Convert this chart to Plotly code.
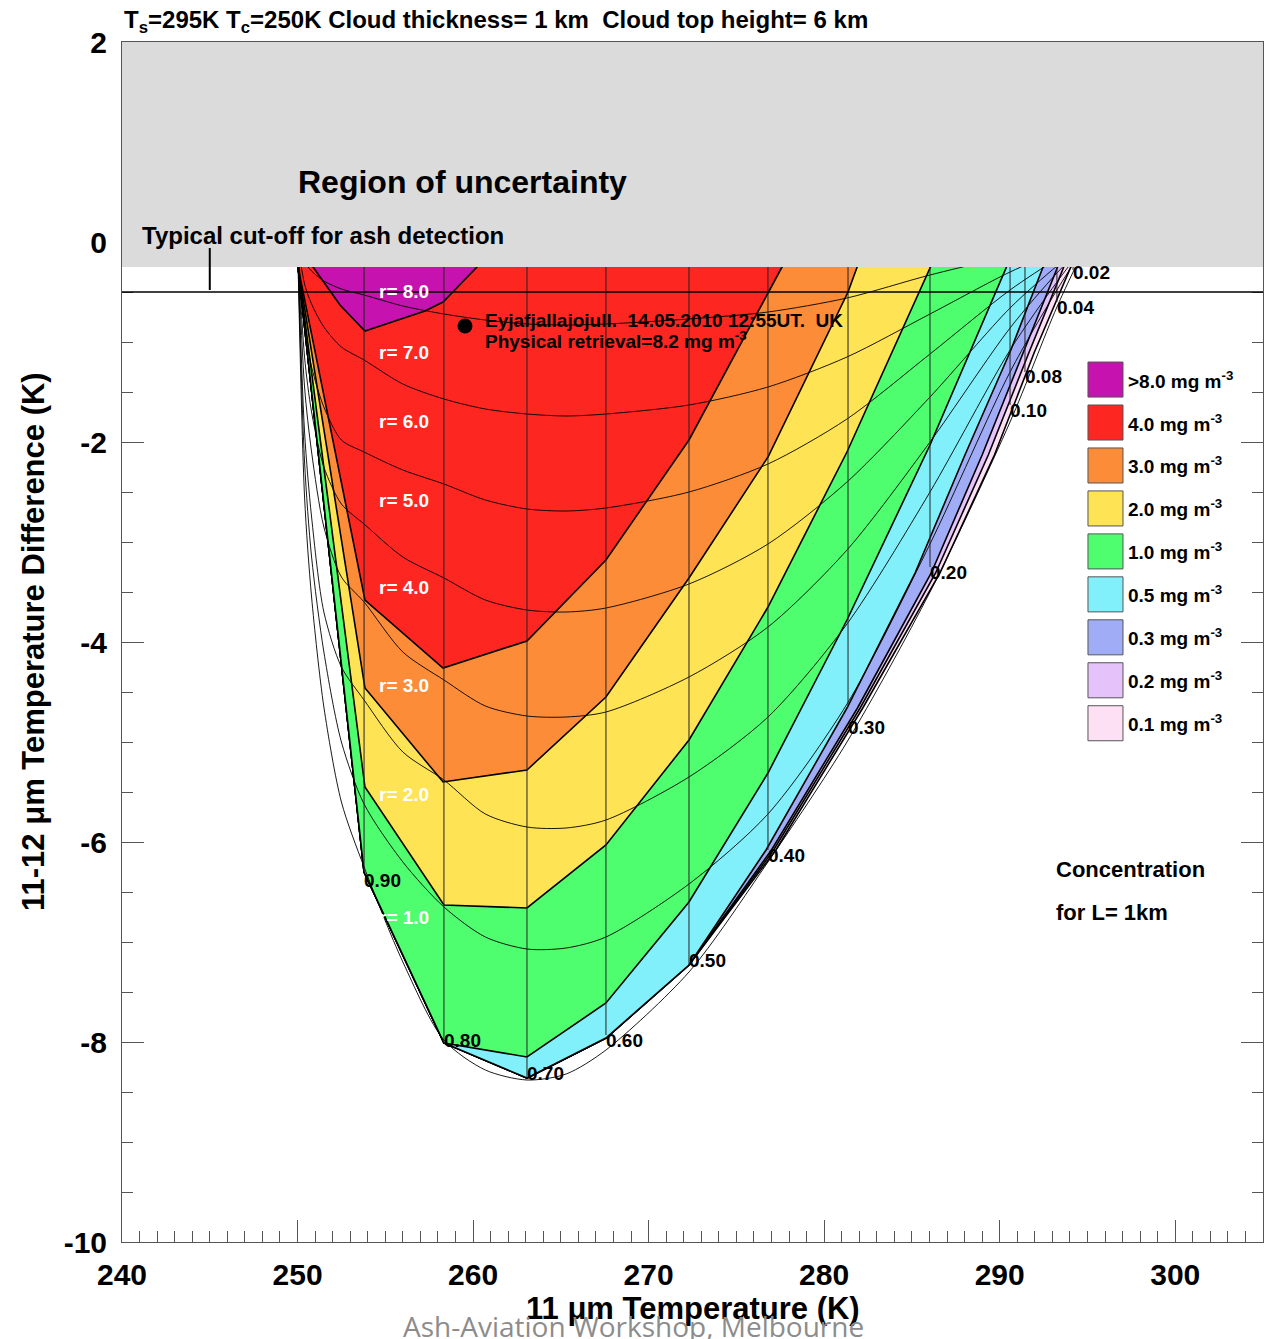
import plotly.graph_objects as go

# ---------------- data ----------------
# concentration classes (legend)
conc_labels = ['>8.0', '4.0', '3.0', '2.0', '1.0', '0.5', '0.3', '0.2', '0.1']
conc_colors = ['#C612AE', '#FE2621', '#FD8C38', '#FEE355', '#4EFE6E',
               '#82F0FB', '#A0ADF6', '#E6C2FA', '#FEE0F4']

# outlines of the regions with concentration >= level (x = 11um BT, y = BTD)
purple_x = [250.6, 250.88, 252.42, 253.84, 257.26, 258.29, 260.22, 260.6]
purple_y = [0.0, -0.25, -0.63, -0.89, -0.69, -0.60, -0.25, 0.0]
red_x = [250.0, 250.03, 253.84, 258.29, 263.07, 267.57, 272.30, 276.80, 277.60, 278.4]
red_y = [0.0, -0.25, -3.58, -4.26, -3.99, -3.18, -1.98, -0.50, -0.25, 0.0]
orange_x = [250.0, 250.03, 253.84, 258.29, 263.07, 267.57, 272.30, 276.80, 281.36, 281.87, 282.4]
orange_y = [0.0, -0.25, -4.46, -5.40, -5.28, -4.55, -3.36, -2.15, -0.50, -0.25, 0.0]
yellow_x = [250.0, 250.03, 253.84, 258.34, 263.07, 267.57, 272.30, 276.80, 281.30, 286.03, 286.7]
yellow_y = [0.0, -0.25, -5.45, -6.63, -6.66, -6.03, -4.98, -3.65, -2.10, -0.25, 0.0]
green_x = [250.0, 250.03, 253.79, 258.34, 263.07, 267.57, 272.30, 276.80, 281.30, 286.03, 291.0]
green_y = [0.0, -0.25, -6.30, -8.01, -8.15, -7.61, -6.60, -5.31, -3.78, -2.03, 0.0]
base_x = [250.0, 250.03, 253.79, 258.34, 263.07, 267.57, 272.30]
base_y = [0.0, -0.25, -6.30, -8.01, -8.36, -7.96, -7.23]
side_y = [-6.08, -4.66, -3.31, -2.13, -1.10, -0.25, 0.0]
cyan_side_x = [276.69, 281.30, 285.18, 288.02, 290.59, 292.47, 292.9]
blue_side_x = [277.00, 281.90, 286.10, 289.00, 291.35, 293.30, 293.65]
lav_side_x = [277.12, 282.05, 286.35, 289.35, 291.68, 293.65, 293.95]
pink_side_x = [277.25, 282.20, 286.60, 289.70, 291.98, 294.05, 294.35]

# curves of constant effective radius
r_x = [250.0, 250.4, 250.8, 251.5, 252.5, 253.79, 256.0, 258.34, 260.7, 263.07,
       265.3, 267.57, 272.3, 276.8, 281.3, 286.03, 290.59, 293.26, 295.0]
r8_y = [0, -0.20, -0.29, -0.39, -0.47, -0.53, -0.64, -0.72, -0.78, -0.82, -0.83, -0.82, -0.77, -0.70, -0.56, -0.33, -0.14, -0.05, 0]
r7_y = [0, -0.42, -0.62, -0.85, -1.05, -1.18, -1.42, -1.57, -1.67, -1.72, -1.74, -1.72, -1.63, -1.45, -1.15, -0.72, -0.30, -0.10, 0]
r6_y = [0, -0.85, -1.25, -1.65, -1.98, -2.10, -2.28, -2.42, -2.58, -2.67, -2.69, -2.66, -2.50, -2.22, -1.77, -1.12, -0.48, -0.17, 0]
r5_y = [0, -1.15, -1.70, -2.25, -2.62, -2.82, -3.15, -3.36, -3.58, -3.68, -3.70, -3.66, -3.42, -3.02, -2.40, -1.55, -0.66, -0.24, 0]
r4_y = [0, -1.45, -2.10, -2.85, -3.35, -3.60, -4.10, -4.38, -4.64, -4.74, -4.75, -4.70, -4.35, -3.85, -3.08, -2.00, -0.86, -0.31, 0]
r3_y = [0, -1.90, -2.75, -3.70, -4.25, -4.58, -5.10, -5.38, -5.72, -5.85, -5.86, -5.78, -5.35, -4.75, -3.82, -2.50, -1.08, -0.40, 0]
r2_y = [0, -2.20, -3.15, -4.10, -5.00, -5.62, -6.20, -6.65, -6.95, -7.07, -7.06, -6.95, -6.42, -5.72, -4.62, -3.02, -1.30, -0.48, 0]
r1_y = [0, -2.55, -3.55, -4.65, -5.60, -6.25, -7.20, -7.98, -8.28, -8.38, -8.32, -8.08, -7.30, -6.20, -5.00, -3.50, -1.80, -0.65, 0]
r_labels = ['r= 8.0', 'r= 7.0', 'r= 6.0', 'r= 5.0', 'r= 4.0', 'r= 3.0', 'r= 2.0', 'r= 1.0']
r_label_y = [-0.49, -1.10, -1.79, -2.58, -3.45, -4.43, -5.52, -6.75]

# lines of constant emissivity
emis_labels = ['0.90', '0.80', '0.70', '0.60', '0.50', '0.40', '0.30', '0.20', '0.10', '0.08', '0.04', '0.02']
emis_x = [253.79, 258.34, 263.07, 267.57, 272.30, 276.80, 281.36, 286.03, 290.59, 291.44, 293.26, 294.18]
emis_ybot = [-6.30, -8.01, -8.36, -7.93, -7.23, -6.08, -4.65, -3.25, -1.63, -1.30, -0.60, -0.28]
emis_label_y = [-6.38, -7.98, -8.31, -7.98, -7.18, -6.13, -4.85, -3.30, -1.68, -1.34, -0.65, -0.30]

# observation
obs_x = [259.54]
obs_y = [-0.84]

x_ticks = [240, 250, 260, 270, 280, 290, 300]
y_ticks = [-10, -8, -6, -4, -2, 0, 2]

# ---------------- figure ----------------
FONT = 'Liberation Sans'
fig = go.Figure()

regions = [
    (base_x + pink_side_x, base_y + side_y, conc_colors[8]),
    (base_x + lav_side_x, base_y + side_y, conc_colors[7]),
    (base_x + blue_side_x, base_y + side_y, conc_colors[6]),
    (base_x + cyan_side_x, base_y + side_y, conc_colors[5]),
    (green_x, green_y, conc_colors[4]),
    (yellow_x, yellow_y, conc_colors[3]),
    (orange_x, orange_y, conc_colors[2]),
    (red_x, red_y, conc_colors[1]),
    (purple_x, purple_y, conc_colors[0]),
]
for xs, ys, col in regions:
    fig.add_trace(go.Scatter(x=xs, y=ys, mode='lines', fill='toself', fillcolor=col,
                             line=dict(color='black', width=1.6), hoverinfo='skip',
                             showlegend=False))

for ys in [r1_y, r2_y, r3_y, r4_y, r5_y, r6_y, r7_y, r8_y]:
    fig.add_trace(go.Scatter(x=r_x, y=ys, mode='lines',
                             line=dict(color='black', width=0.9, shape='spline', smoothing=0.8),
                             hoverinfo='skip', showlegend=False))

for ex, eb in zip(emis_x, emis_ybot):
    fig.add_trace(go.Scatter(x=[ex, ex], y=[eb, 0.0], mode='lines',
                             line=dict(color='#222222', width=1), hoverinfo='skip',
                             showlegend=False))

fig.add_trace(go.Scatter(x=obs_x, y=obs_y, mode='markers',
                         marker=dict(color='black', size=15), showlegend=False))

annotations = []
for lab, ly in zip(r_labels, r_label_y):
    annotations.append(dict(x=254.5, y=ly, xref='x', yref='y', text=lab, showarrow=False,
                            xanchor='left', yanchor='middle',
                            font=dict(family=FONT, size=19, color='white', weight='bold')))
for lab, ex, ly in zip(emis_labels, emis_x, emis_label_y):
    annotations.append(dict(x=ex, y=ly, xref='x', yref='y', text=lab, showarrow=False,
                            xanchor='left', yanchor='middle', xshift=-2,
                            font=dict(family=FONT, size=19, color='black', weight='bold')))

annotations += [
    dict(x=260.57, y=-0.78, xref='x', yref='y', showarrow=False, xanchor='left', yanchor='middle',
         text='Eyjafjallajojull.\u00a0 14.05.2010 12:55UT.\u00a0 UK',
         font=dict(family=FONT, size=19, color='black', weight='bold')),
    dict(x=260.57, y=-0.98, xref='x', yref='y', showarrow=False, xanchor='left', yanchor='middle',
         text='Physical retrieval=8.2 mg m<sup>-3</sup>',
         font=dict(family=FONT, size=19, color='black', weight='bold')),
    dict(x=259.37, y=0.60, xref='x', yref='y', showarrow=False, xanchor='center', yanchor='middle',
         text='Region of uncertainty',
         font=dict(family=FONT, size=32, color='black', weight='bold')),
    dict(x=241.03, y=0.07, xref='x', yref='y', showarrow=False, xanchor='left', yanchor='middle',
         text='Typical cut-off for ash detection',
         font=dict(family=FONT, size=24, color='black', weight='bold')),
    dict(x=0.0, y=1.0167, xref='paper', yref='paper', showarrow=False, xanchor='left', yanchor='middle',
         text='T<sub>s</sub>=295K T<sub>c</sub>=250K Cloud thickness= 1 km\u00a0 Cloud top height= 6 km',
         font=dict(family=FONT, size=24, color='black', weight='bold')),
    dict(x=0.5, y=-0.055, xref='paper', yref='paper', showarrow=False, xanchor='center', yanchor='middle',
         text='11 \u03bcm Temperature (K)',
         font=dict(family=FONT, size=31, color='black', weight='bold')),
    dict(x=-0.078, y=0.5, xref='paper', yref='paper', showarrow=False, xanchor='center', yanchor='middle',
         text='11-12 \u03bcm Temperature Difference (K)', textangle=-90,
         font=dict(family=FONT, size=31, color='black', weight='bold')),
    dict(x=0.8168, y=0.31, xref='paper', yref='paper', showarrow=False, xanchor='left', yanchor='middle',
         text='Concentration', font=dict(family=FONT, size=22, color='black', weight='bold')),
    dict(x=0.8168, y=0.275, xref='paper', yref='paper', showarrow=False, xanchor='left', yanchor='middle',
         text='for L= 1km', font=dict(family=FONT, size=22, color='black', weight='bold')),
    dict(x=0.4487, y=-0.07, xref='paper', yref='paper', showarrow=False, xanchor='center', yanchor='middle',
         text='Ash-Aviation Workshop, Melbourne', font=dict(family='Open Sans', size=28, color='#8c8c8c')),
]

shapes = [
    dict(type='rect', xref='paper', yref='y', x0=0, x1=1, y0=-0.25, y1=2, layer='above',
         fillcolor='#DBDBDB', line=dict(width=0)),
    dict(type='line', xref='paper', yref='y', x0=0, x1=1, y0=-0.5, y1=-0.5, layer='above',
         line=dict(color='black', width=1.6)),
    dict(type='line', xref='x', yref='y', x0=245.0, x1=245.0, y0=-0.06, y1=-0.48, layer='above',
         line=dict(color='black', width=2)),
]

# legend boxes
box_top = 0.7333
box_h = 0.0292
box_step = 0.0358
for i, (lab, col) in enumerate(zip(conc_labels, conc_colors)):
    yt = box_top - i * box_step
    shapes.append(dict(type='rect', xref='paper', yref='paper', x0=0.8466, x1=0.8773,
                       y0=yt - box_h, y1=yt, fillcolor=col, line=dict(color='#555555', width=1)))
    annotations.append(dict(x=0.8795, y=yt - box_h / 2, xref='paper', yref='paper', showarrow=False,
                            xanchor='left', yanchor='middle', text=lab + ' mg m<sup>-3</sup>',
                            font=dict(family=FONT, size=19, color='black', weight='bold')))

axis_common = dict(showgrid=False, zeroline=False, showline=True, linecolor='#555555', linewidth=1,
                   mirror='ticks', ticks='inside', tickcolor='#555555', tickwidth=1, ticklen=22,
                   tickfont=dict(family=FONT, size=30, color='black', weight='bold'))

fig.update_layout(
    width=1268, height=1339,
    margin=dict(l=122, r=5, t=42, b=97),
    paper_bgcolor='white', plot_bgcolor='white',
    showlegend=False,
    xaxis=dict(range=[240, 305], tickvals=x_ticks, ticktext=[str(v) for v in x_ticks],
               minor=dict(dtick=1, tick0=240, ticks='inside', ticklen=11, tickcolor='#555555'),
               ticklabelstandoff=6, **axis_common),
    yaxis=dict(range=[-10, 2], tickvals=y_ticks, ticktext=[str(v) for v in y_ticks],
               minor=dict(dtick=0.5, tick0=0, ticks='inside', ticklen=11, tickcolor='#555555'),
               ticklabelstandoff=8, **axis_common),
    annotations=annotations,
    shapes=shapes,
)

fig.write_html('out.html', config={'displayModeBar': False},
               post_script="document.body.style.margin='0px';document.body.style.overflow='hidden';")
